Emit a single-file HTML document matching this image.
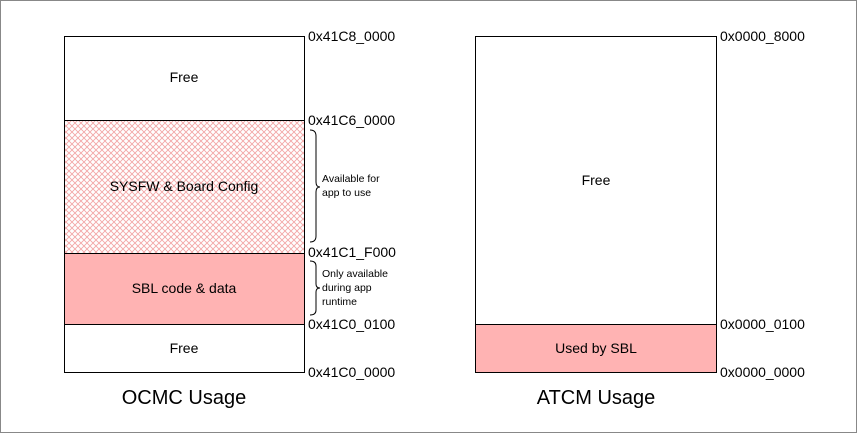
<!DOCTYPE html>
<html><head><style>
body{margin:0;width:857px;height:433px;background:#fff;overflow:hidden}
</style></head><body>
<svg width="857" height="433" xmlns="http://www.w3.org/2000/svg" font-family="Liberation Sans, sans-serif">
<defs>
<pattern id="x" width="6" height="6" patternUnits="userSpaceOnUse">
<rect width="6" height="6" fill="#fff"/>
<path d="M0 0L6 6M6 0L0 6" stroke="#f2a6a6" stroke-width="0.9"/>
</pattern>
</defs>
<rect x="0.5" y="0.5" width="856" height="432" fill="#fff" stroke="#888"/>
<rect x="64.5" y="36.5" width="240" height="84" fill="#fff" stroke="#000"/>
<rect x="64.5" y="120.5" width="240" height="133" fill="url(#x)" stroke="#000"/>
<rect x="64.5" y="253.5" width="240" height="71" fill="#ffb3b3" stroke="#000"/>
<rect x="64.5" y="324.5" width="240" height="48" fill="#fff" stroke="#000"/>
<rect x="475.5" y="36.5" width="241" height="288" fill="#fff" stroke="#000"/>
<rect x="475.5" y="324.5" width="241" height="48" fill="#ffb3b3" stroke="#000"/>
<g font-size="14" text-anchor="middle" fill="#000">
<text x="184" y="82">Free</text>
<text x="184" y="191">SYSFW &amp; Board Config</text>
<text x="184" y="293">SBL code &amp; data</text>
<text x="184" y="353">Free</text>
<text x="596" y="185">Free</text>
<text x="596" y="353">Used by SBL</text>
</g>
<g font-size="14" fill="#000">
<text x="308" y="41">0x41C8_0000</text>
<text x="308" y="125">0x41C6_0000</text>
<text x="308" y="257">0x41C1_F000</text>
<text x="308" y="329">0x41C0_0100</text>
<text x="308" y="377">0x41C0_0000</text>
<text x="720" y="41">0x0000_8000</text>
<text x="720" y="329">0x0000_0100</text>
<text x="720" y="377">0x0000_0000</text>
</g>
<g font-size="10.5" fill="#000">
<text x="322" y="182">Available for</text>
<text x="322" y="196">app to use</text>
<text x="322" y="277">Only available</text>
<text x="322" y="291">during app</text>
<text x="322" y="305">runtime</text>
</g>
<g fill="none" stroke="#000" stroke-width="1">
<path d="M310 130 Q316 130 316 136 L316 182 Q316 187 320 187 Q316 187 316 192 L316 236 Q316 242 310 242"/>
<path d="M310 261 Q316 261 316 266 L316 284 Q316 288 320 288 Q316 288 316 292 L316 310 Q316 315 310 315"/>
</g>
<g font-size="20" text-anchor="middle" fill="#000">
<text x="184" y="404">OCMC Usage</text>
<text x="596" y="404">ATCM Usage</text>
</g>
</svg>
</body></html>
